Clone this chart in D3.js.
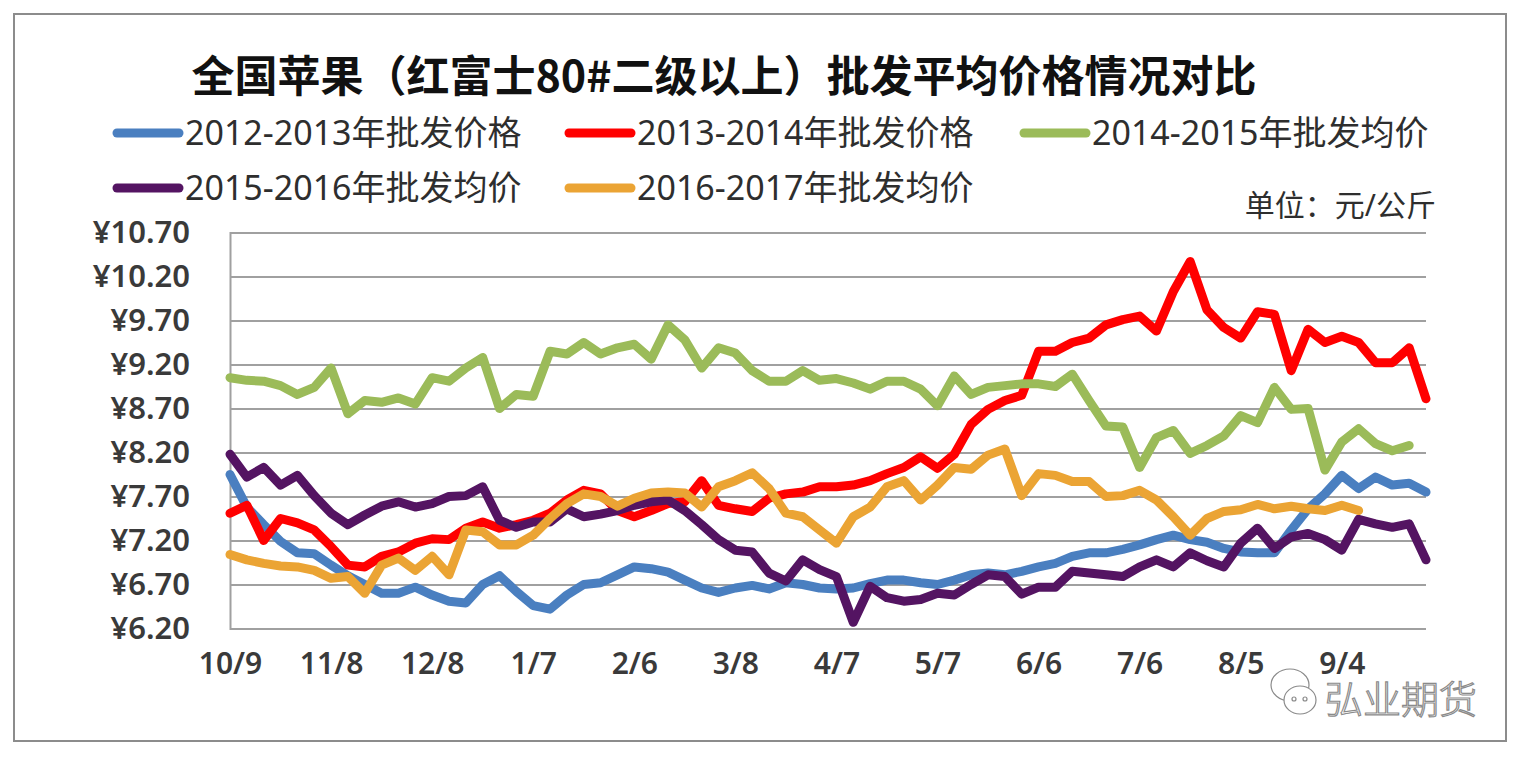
<!DOCTYPE html>
<html>
<head>
<meta charset="utf-8">
<script src="https://cdnjs.cloudflare.com/ajax/libs/d3/7.8.5/d3.min.js"></script>
<style>
body { margin: 0; background: #fff; }
svg { display: block; }
</style>
</head>
<body>
<svg></svg>
<script>
// tick labels every 6 points (30 days), points every 5 days
var tickLabels = ["10/9","11/8","12/8","1/7","2/6","3/8","4/7","5/7","6/6","7/6","8/5","9/4"];
var yTicks = [6.2, 6.7, 7.2, 7.7, 8.2, 8.7, 9.2, 9.7, 10.2, 10.7];

var names = ["2012-2013年批发价格","2013-2014年批发价格","2014-2015年批发均价","2015-2016年批发均价","2016-2017年批发均价"];
var colors = ["#4a7fc0","#ff0000","#9bbb59","#541462","#eba434"];

var s2012 = [7.95,7.58,7.38,7.19,7.06,7.05,6.92,6.80,6.70,6.60,6.60,6.67,6.58,6.51,6.49,6.70,6.80,6.62,
	6.46,6.42,6.58,6.70,6.72,6.81,6.90,6.88,6.84,6.75,6.66,6.61,6.66,6.69,6.65,6.72,6.70,6.66,
	6.65,6.66,6.71,6.75,6.75,6.72,6.70,6.75,6.81,6.83,6.81,6.85,6.90,6.94,7.02,7.06,7.06,7.10,
	7.15,7.21,7.26,7.21,7.18,7.11,7.07,7.06,7.06,7.32,7.56,7.73,7.94,7.79,7.92,7.83,7.85,7.75];
var s2013 = [7.51,7.60,7.20,7.45,7.40,7.32,7.13,6.92,6.90,7.02,7.07,7.17,7.22,7.21,7.34,7.41,7.34,7.38,
	7.43,7.51,7.66,7.77,7.73,7.54,7.47,7.54,7.62,7.64,7.88,7.60,7.56,7.53,7.68,7.73,7.75,7.81,
	7.81,7.83,7.88,7.96,8.03,8.15,8.02,8.18,8.52,8.69,8.79,8.85,9.35,9.35,9.45,9.50,9.65,9.71,
	9.75,9.58,10.03,10.37,9.82,9.62,9.50,9.80,9.77,9.13,9.60,9.45,9.52,9.45,9.22,9.22,9.39,8.81];
var s2014 = [9.05,9.02,9.01,8.96,8.86,8.94,9.16,8.64,8.79,8.77,8.82,8.75,9.05,9.01,9.16,9.28,8.70,8.86,
	8.84,9.35,9.32,9.45,9.32,9.39,9.43,9.26,9.65,9.48,9.16,9.39,9.33,9.13,9.01,9.01,9.13,9.02,
	9.04,8.99,8.92,9.01,9.01,8.92,8.73,9.07,8.86,8.94,8.96,8.98,8.98,8.95,9.09,8.79,8.50,8.49,
	8.03,8.37,8.45,8.19,8.28,8.39,8.62,8.54,8.94,8.69,8.70,8.00,8.32,8.47,8.30,8.22,8.28,null];
var s2015 = [8.18,7.92,8.03,7.83,7.94,7.71,7.51,7.38,7.49,7.59,7.64,7.58,7.62,7.70,7.71,7.81,7.43,7.35,
	7.41,7.41,7.56,7.47,7.50,7.54,7.60,7.64,7.66,7.54,7.38,7.21,7.09,7.07,6.83,6.74,6.98,6.87,
	6.79,6.27,6.68,6.55,6.51,6.53,6.60,6.58,6.70,6.81,6.79,6.59,6.67,6.67,6.85,6.83,6.81,6.79,
	6.90,6.98,6.90,7.06,6.97,6.90,7.17,7.34,7.11,7.24,7.28,7.21,7.09,7.44,7.39,7.35,7.39,6.98];
var s2016 = [7.04,6.98,6.94,6.91,6.90,6.86,6.77,6.79,6.60,6.92,7.00,6.86,7.02,6.81,7.32,7.30,7.15,7.15,
	7.26,7.45,7.62,7.73,7.70,7.59,7.68,7.74,7.75,7.74,7.58,7.81,7.88,7.97,7.79,7.51,7.47,7.32,
	7.17,7.47,7.58,7.81,7.88,7.66,7.83,8.03,8.01,8.17,8.24,7.71,7.96,7.94,7.87,7.87,7.70,7.71,
	7.77,7.66,7.47,7.26,7.45,7.53,7.55,7.61,7.56,7.59,7.56,7.54,7.60,7.54,null,null,null,null];

var series = [s2012, s2013, s2014, s2015, s2016];

var svgWidth = 1526, svgHeight = 764;
var plotLeft = 230, plotRight = 1426, plotTop = 232.5, plotBottom = 628.5;
var txtFont = "'Noto Sans', 'Noto Sans CJK SC', sans-serif";

var svg = d3.select("svg")
	.attr("width", svgWidth)
	.attr("height", svgHeight);

// outer frame
svg.append("rect")
	.attr("x", 14).attr("y", 14)
	.attr("width", 1492).attr("height", 727)
	.attr("fill", "#fff")
	.attr("stroke", "#8c8c8c")
	.attr("stroke-width", 2);

svg.append("text")
	.attr("x", 724).attr("y", 92)
	.attr("text-anchor", "middle")
	.attr("font-family", "'Noto Sans CJK SC', sans-serif")
	.attr("font-weight", 700)
	.attr("font-size", 43)
	.attr("fill", "#111")
	.text("全国苹果（红富士80#二级以上）批发平均价格情况对比");

var xScale = d3.scaleLinear()
	.domain([0, s2012.length - 1])
	.range([plotLeft, plotRight]);

var yScale = d3.scaleLinear()
	.domain([6.2, 10.7])
	.range([plotBottom, plotTop]);

// gridlines + y labels
var y_axis = d3.axisLeft(yScale)
	.tickValues(yTicks)
	.tickSize(-(plotRight - plotLeft))
	.tickPadding(40)
	.tickFormat(function(d){ return "¥" + d.toFixed(2); });

var gy = svg.append("g")
	.attr("transform", `translate(${plotLeft},0)`)
	.call(y_axis);
gy.select(".domain").attr("stroke", "#a0a0a0").attr("stroke-width", 2);
gy.selectAll(".tick line").attr("stroke", "#a0a0a0").attr("stroke-width", 2);
gy.selectAll(".tick text")
	.attr("font-family", txtFont)
	.attr("font-size", 31)
	.attr("font-weight", 600)
	.attr("fill", "#3a3a3a");

// x labels
var x_axis = d3.axisBottom(xScale)
	.tickValues(tickLabels.map(function(d, i){ return i * 6; }))
	.tickSize(0)
	.tickPadding(24)
	.tickFormat(function(d){ return tickLabels[d / 6]; });

var gx = svg.append("g")
	.attr("transform", `translate(0,${plotBottom})`)
	.call(x_axis);
gx.select(".domain").remove();
gx.selectAll(".tick text")
	.attr("font-family", txtFont)
	.attr("font-size", 30)
	.attr("font-weight", 600)
	.attr("fill", "#3a3a3a");

var line = d3.line()
	.defined(function(d){ return d != null; })
	.x(function(d, i){ return xScale(i); })
	.y(function(d){ return yScale(d); });

svg.selectAll(".series")
	.data(series)
	.enter()
	.append("path")
	.attr("class", "series")
	.attr("d", line)
	.attr("fill", "none")
	.attr("stroke", function(d, i){ return colors[i]; })
	.attr("stroke-width", 9)
	.attr("stroke-linejoin", "round")
	.attr("stroke-linecap", "round");

// legend
var legendPos = [[113, 133], [565, 133], [1020, 133], [113, 188], [565, 188]];
var lg = svg.selectAll(".lg")
	.data(names)
	.enter()
	.append("g")
	.attr("class", "lg")
	.attr("transform", function(d, i){ return `translate(${legendPos[i]})`; });
lg.append("line")
	.attr("x1", 4).attr("x2", 66)
	.attr("stroke", function(d, i){ return colors[i]; })
	.attr("stroke-width", 9)
	.attr("stroke-linecap", "round");
lg.append("text")
	.attr("x", 72).attr("y", 12)
	.attr("font-family", txtFont)
	.attr("font-size", 34)
	.attr("fill", "#2e2e2e")
	.text(function(d){ return d; });

svg.append("text")
	.attr("x", 1436).attr("y", 216)
	.attr("text-anchor", "end")
	.attr("font-family", txtFont)
	.attr("font-size", 30)
	.attr("fill", "#2e2e2e")
	.text("单位：元/公斤");

// watermark
var wm = svg.append("g").attr("fill", "#fff").attr("stroke", "#8a8a8a").attr("stroke-width", 1.2);
wm.append("ellipse").attr("cx", 1290).attr("cy", 685).attr("rx", 19).attr("ry", 16);
wm.append("ellipse").attr("cx", 1300).attr("cy", 700).attr("rx", 16).attr("ry", 14);
wm.append("circle").attr("cx", 1294).attr("cy", 699).attr("r", 2);
wm.append("circle").attr("cx", 1305).attr("cy", 699).attr("r", 2);
wm.append("text")
	.attr("x", 1325).attr("y", 713)
	.attr("font-family", "'Noto Sans CJK SC', sans-serif")
	.attr("font-weight", 300)
	.attr("font-size", 38)
	.text("弘业期货");
</script>
</body>
</html>
